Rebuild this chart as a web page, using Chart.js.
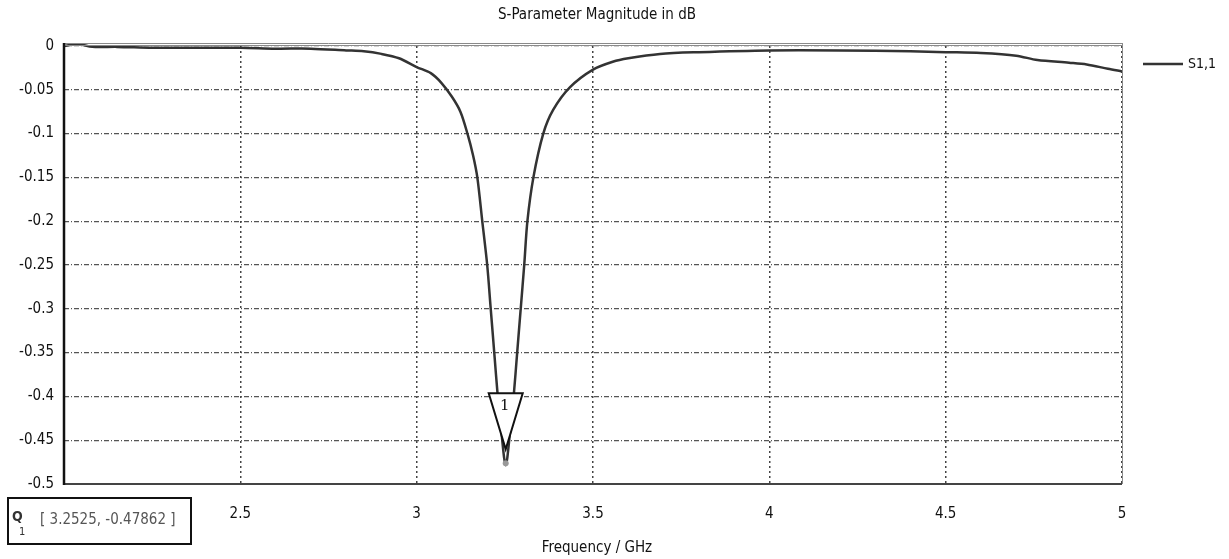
<!DOCTYPE html>
<html>
<head>
<meta charset="utf-8">
<script src="https://cdn.jsdelivr.net/npm/chart.js@4.4.0/dist/chart.umd.min.js"></script>
<style>
  html, body { margin: 0; padding: 0; background: #fff; }
  #wrap { width: 1229px; height: 559px; }
</style>
</head>
<body>
<div id="wrap"><canvas id="s11Chart" width="1229" height="559"></canvas></div>
<script>
// frequency points (GHz) and S1,1 magnitude (dB)
const freqGHz = [2.00, 2.04, 2.08, 2.15, 2.25, 2.35, 2.5, 2.6, 2.7, 2.8, 2.85, 2.9, 2.95, 3.0, 3.04, 3.07, 3.1, 3.124, 3.144, 3.16, 3.172, 3.186, 3.2, 3.21, 3.22, 3.23, 3.24, 3.2525, 3.265, 3.275, 3.285, 3.295, 3.305, 3.314, 3.331, 3.359, 3.387, 3.435, 3.5, 3.556, 3.6, 3.69, 3.8, 4.0, 4.2, 4.4, 4.5, 4.6, 4.7, 4.76, 4.85, 4.9, 4.96, 5.0];
const s11dB = [0.000, 0.002, -0.001, -0.001, -0.002, -0.002, -0.002, -0.003, -0.003, -0.005, -0.006, -0.009, -0.014, -0.024, -0.031, -0.042, -0.058, -0.075, -0.1, -0.125, -0.15, -0.2, -0.25, -0.3, -0.35, -0.4, -0.44, -0.47862, -0.44, -0.4, -0.35, -0.3, -0.25, -0.2, -0.15, -0.1, -0.073, -0.047, -0.027, -0.018, -0.014, -0.009, -0.007, -0.005, -0.005, -0.006, -0.007, -0.008, -0.011, -0.016, -0.019, -0.021, -0.026, -0.029];

// marker 1
const markerFreq = [3.2525];
const markerVal = [-0.47862];
const markerText = ['[ 3.2525, -0.47862 ]'];

const titleText = 'S-Parameter Magnitude in dB';
const xTitleText = 'Frequency / GHz';
const seriesName = 'S1,1';

const FONT = '"DejaVu Sans Condensed", "DejaVu Sans", sans-serif';

const decorPlugin = {
    id: 'decor',
    afterDraw: (chart) => {
        const ctx = chart.ctx;
        const a = chart.chartArea;
        const xs = chart.scales.x;
        const ys = chart.scales.y;
        ctx.save();

        // frame: gray top (double) and right, dark bottom, black left
        ctx.strokeStyle = '#8a8a8a';
        ctx.lineWidth = 1;
        ctx.beginPath();
        ctx.moveTo(a.left, a.top - 2.5); ctx.lineTo(a.right, a.top - 2.5);
        ctx.moveTo(a.left, a.top - 0.5); ctx.lineTo(a.right, a.top - 0.5);
        ctx.moveTo(a.right + 0.5, a.top - 3); ctx.lineTo(a.right + 0.5, a.bottom);
        ctx.stroke();
        ctx.strokeStyle = '#444';
        ctx.lineWidth = 2;
        ctx.beginPath();
        ctx.moveTo(a.left, a.bottom); ctx.lineTo(a.right, a.bottom);
        ctx.stroke();
        ctx.strokeStyle = '#111';
        ctx.lineWidth = 2.5;
        ctx.beginPath();
        ctx.moveTo(a.left, a.top - 3); ctx.lineTo(a.left, a.bottom + 1);
        ctx.stroke();

        // titles
        ctx.fillStyle = '#111';
        ctx.textAlign = 'center';
        ctx.textBaseline = 'middle';
        ctx.font = '15px ' + FONT;
        ctx.fillText(titleText, (a.left + a.right) / 2 + 4, 15);
        ctx.fillText(xTitleText, (a.left + a.right) / 2 + 4, 548);

        // legend
        ctx.strokeStyle = '#333';
        ctx.lineWidth = 2.5;
        ctx.beginPath();
        ctx.moveTo(a.right + 21, 64); ctx.lineTo(a.right + 61, 64);
        ctx.stroke();
        ctx.textAlign = 'left';
        ctx.font = '14px ' + FONT;
        ctx.fillText(seriesName, a.right + 66, 64);

        // marker triangle at the minimum
        markerFreq.forEach((f, i) => {
            const px = xs.getPixelForValue(f);
            const py = ys.getPixelForValue(markerVal[i]);
            ctx.fillStyle = '#999';
            ctx.beginPath();
            ctx.arc(px, py - 2, 3, 0, Math.PI * 2);
            ctx.fill();
            ctx.fillStyle = '#fff';
            ctx.strokeStyle = '#111';
            ctx.lineWidth = 2;
            ctx.beginPath();
            ctx.moveTo(px - 17, py - 72);
            ctx.lineTo(px + 17, py - 72);
            ctx.lineTo(px, py - 16);
            ctx.closePath();
            ctx.fill();
            ctx.stroke();
            ctx.fillStyle = '#111';
            ctx.textAlign = 'center';
            ctx.font = '15px "DejaVu Serif", serif';
            ctx.fillText(String(i + 1), px - 1, py - 59);
        });

        // marker readout box
        ctx.strokeStyle = '#111';
        ctx.lineWidth = 2;
        ctx.strokeRect(8, 498, 183, 46);
        ctx.fillStyle = '#333';
        ctx.font = 'bold 14px ' + FONT;
        ctx.textAlign = 'left';
        ctx.fillText('Q', 12, 517);
        ctx.font = '11px ' + FONT;
        ctx.fillText('1', 19, 532);
        ctx.fillStyle = '#555';
        ctx.font = '15px ' + FONT;
        ctx.fillText(markerText[0], 40, 520);

        ctx.restore();
    }
};

const canvas = document.getElementById('s11Chart');
const ctx = canvas.getContext('2d');

const myLineChart = new Chart(ctx, {
    type: 'line',
    data: {
        datasets: [{
            label: seriesName,
            data: freqGHz.map((f, i) => ({ x: f, y: s11dB[i] })),
            borderColor: '#333',
            borderWidth: 2.5,
            pointRadius: 0,
            tension: 0.3,
            clip: 6,
            fill: false
        }]
    },
    plugins: [decorPlugin],
    options: {
        responsive: false,
        animation: false,
        layout: {
            padding: { top: 46, right: 107, left: 0, bottom: 0 }
        },
        plugins: {
            legend: { display: false },
            title: { display: false },
            tooltip: { enabled: false }
        },
        scales: {
            x: {
                type: 'linear',
                min: 2,
                max: 5,
                afterFit: (s) => { s.height = 75; },
                ticks: {
                    stepSize: 0.5,
                    padding: 21,
                    color: '#111',
                    font: { family: FONT, size: 15 },
                    callback: (v) => v === 2 ? '' : String(v)
                },
                grid: {
                    color: '#444',
                    lineWidth: 1.5,
                    drawTicks: false
                },
                border: { display: false, dash: [2, 3] }
            },
            y: {
                min: -0.5,
                max: 0,
                afterFit: (s) => { s.width = 64; },
                ticks: {
                    stepSize: 0.05,
                    padding: 10,
                    color: '#111',
                    font: { family: FONT, size: 15 },
                    callback: (v) => String(Math.round(v * 100) / 100)
                },
                grid: {
                    color: '#555',
                    lineWidth: 1.2,
                    drawTicks: false
                },
                border: { display: false, dash: [5, 2, 1, 2] }
            }
        }
    }
});
</script>
</body>
</html>
